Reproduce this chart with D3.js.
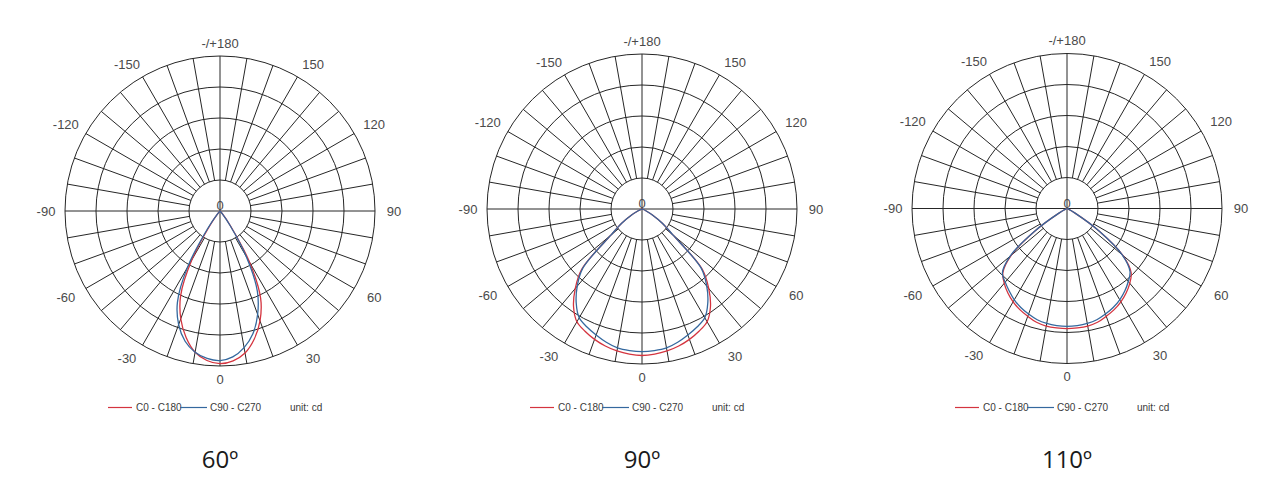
<!DOCTYPE html>
<html><head><meta charset="utf-8">
<script src="https://cdn.jsdelivr.net/npm/d3@7"></script>
<style>body{margin:0;background:#fff}</style>
</head><body>
<svg id="c" width="1287" height="500"></svg>
<script>
// Angles (deg) from -90 to 90, step 5; 0 = straight down (nadir)
const angles = d3.range(-90, 95, 5);
// Relative intensity (% of outer ring)
const red60  = [0,0,0,0,0,0,0,0,0,0, 2,11,36,60,74,84.5,92.5,96.8, 98.5, 97,93,85.5,75.5,62,38,12,2.5, 0,0,0,0,0,0,0,0,0,0];
const blue60 = [0,0,0,0,0,0,0,0,0,0, 3,14,42,65,78,87,92.5,95.5, 96.5, 94.5,89.5,82,71,57,34,11,2, 0,0,0,0,0,0,0,0,0,0];
const red90  = [0,0,0,0, 1,3,8,16,26,55,67,77,84,87,89.5,91.5,93,94, 94.5, 94,93,91.5,89.5,87,84,77,67,55,26,16,8,3,1, 0,0,0,0];
const blue90 = [0,0,0,0, 1,3,8,16,26,54,65,74,81,84,86.5,89,91,91.7, 92, 91.7,91,89,86.5,84,81,74,65,54,26,16,8,3,1, 0,0,0,0];
const red110  = [0,0,0,0,0, 1,6,25,47,58.5,63,66.5,69.5,72,74,76,77,77.3, 77.5, 77.3,77,76,74,72,69.5,66.5,63,58.5,47,25,6,1, 0,0,0,0,0];
const blue110 = [0,0,0,0,0, 1,6,25.5,48,59,62,65,68,70.5,72.5,74.3,75.3,75.8, 76, 75.8,75.3,74.3,72.5,70.5,68,65,61.5,57.5,46.5,25,6,1, 0,0,0,0,0];

const titles = ["60º", "90º", "110º"];
const seriesNames = ["C0 - C180", "C90 - C270"];
const unitLabel = "unit: cd";
const tickAngles = [0, 30, 60, 90, 120, 150, 180, -150, -120, -90, -60, -30];
const tickLabels = ["0", "30", "60", "90", "120", "150", "-/+180", "-150", "-120", "-90", "-60", "-30"];
const ringValues = [20, 40, 60, 80, 100];
const centerLabel = "0";

const charts = [
  {cx: 220, cy: 211, red: red60, blue: blue60, title: titles[0]},
  {cx: 642, cy: 209, red: red90, blue: blue90, title: titles[1]},
  {cx: 1067, cy: 208.5, red: red110, blue: blue110, title: titles[2]}
];

const R = 155;
const rScale = d3.scaleLinear().domain([0, 100]).range([0, R]);
const RED = "#d4343f", BLUE = "#34689e", GRID = "#262626", TXT = "#4a4a4a";
const rad = d => d * Math.PI / 180;

const svg = d3.select("#c");
svg.append("rect").attr("width", 1287).attr("height", 500).attr("fill", "#fff");

function pts(vals) {
  const p = angles.map((a, i) => ({a, v: vals[i]}));
  return p.filter((d, i) => d.v > 0 || (p[i-1] && p[i-1].v > 0) || (p[i+1] && p[i+1].v > 0));
}

const line = d3.lineRadial()
  .angle(d => rad(180 - d.a))
  .radius(d => rScale(d.v))
  .curve(d3.curveCatmullRom.alpha(0.5));

charts.forEach(ch => {
  const g = svg.append("g").attr("transform", `translate(${ch.cx},${ch.cy})`);
  // rings
  g.selectAll("circle.ring").data(ringValues).enter().append("circle")
    .attr("r", d => rScale(d)).attr("fill", "none")
    .attr("stroke", GRID).attr("stroke-width", 1);
  // spokes
  const spokes = d3.range(0, 360, 10);
  g.selectAll("line.spoke").data(spokes).enter().append("line")
    .each(function(d) {
      const full = d % 90 === 0;
      const r0 = full ? 0 : rScale(ringValues[0]);
      const s = Math.sin(rad(d)), c = Math.cos(rad(d));
      d3.select(this)
        .attr("x1", r0 * s).attr("y1", r0 * c)
        .attr("x2", R * s).attr("y2", R * c);
    })
    .attr("stroke", GRID).attr("stroke-width", 1);
  // tick labels
  g.selectAll("text.tick").data(tickAngles).enter().append("text")
    .attr("x", d => {
      const s = Math.sin(rad(d)), c = Math.cos(rad(d));
      return 174 * s + 7 * Math.sign(Math.round(s * 1000)) * Math.abs(c);
    })
    .attr("y", d => {
      const s = Math.sin(rad(d)), c = Math.cos(rad(d));
      return 168 * c + 3 * Math.sign(Math.round(c * 1000)) * Math.abs(s);
    })
    .attr("dy", "0.35em")
    .attr("text-anchor", "middle")
    .attr("font-family", "Liberation Sans, Arial, sans-serif")
    .attr("font-size", 13).attr("fill", TXT)
    .text((d, i) => tickLabels[i]);
  g.append("text").attr("x", 0).attr("y", -1).attr("text-anchor", "middle")
    .attr("font-family", "Liberation Sans, Arial, sans-serif")
    .attr("font-size", 13).attr("fill", TXT).text(centerLabel);
  // curves
  g.append("path").attr("d", line(pts(ch.red))).attr("fill", "none")
    .attr("stroke", RED).attr("stroke-width", 1.3);
  g.append("path").attr("d", line(pts(ch.blue))).attr("fill", "none")
    .attr("stroke", BLUE).attr("stroke-width", 1.3);

  // legend
  const lg = svg.append("g").attr("transform", `translate(${ch.cx},407.5)`)
    .attr("font-family", "Liberation Sans, Arial, sans-serif").attr("font-size", 10).attr("fill", "#3a3a3a");
  lg.append("line").attr("x1", -112).attr("x2", -88).attr("stroke", RED).attr("stroke-width", 1.2);
  lg.append("text").attr("x", -84).attr("y", 3.5).text(seriesNames[0]);
  lg.append("line").attr("x1", -40).attr("x2", -13).attr("stroke", BLUE).attr("stroke-width", 1.2);
  lg.append("text").attr("x", -10).attr("y", 3.5).text(seriesNames[1]);
  lg.append("text").attr("x", 70).attr("y", 3.5).text(unitLabel);

  // title
  svg.append("text").attr("x", ch.cx).attr("y", 468).attr("text-anchor", "middle")
    .attr("font-family", "Open Sans, Noto Sans, sans-serif").attr("font-size", 24)
    .attr("fill", "#1a1a1a").text(ch.title);
});
</script>
</body></html>
